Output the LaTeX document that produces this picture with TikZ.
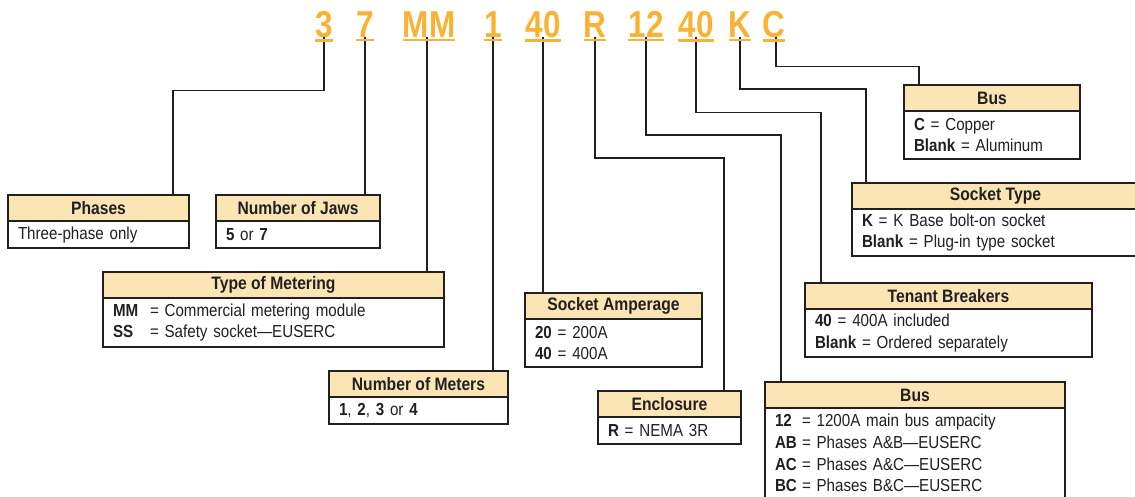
\documentclass[tikz,border=0pt]{standalone}
\usepackage{fontspec}
\setmainfont{Liberation Sans}[FakeStretch=0.87]
\newfontfamily\codefont{Liberation Sans}[FakeStretch=0.84]
\usetikzlibrary{positioning}
\definecolor{codeorange}{HTML}{F9B233}
\definecolor{headtan}{HTML}{FBE5B5}
\definecolor{ink}{HTML}{231F20}

\begin{document}
\begin{tikzpicture}[x=1pt,y=-1pt,outer sep=0pt,
    code/.style={font=\codefont\bfseries\fontsize{37.5}{38}\selectfont,text=codeorange,inner sep=0pt,anchor=base},
    uline/.style={draw=codeorange,line width=2.3pt},
    wire/.style={draw=ink,line width=1.6pt},
    head/.style={draw=ink,line width=1.3pt,fill=headtan,anchor=north west,minimum width=#1,minimum height=26pt,
      inner sep=0pt,text=ink,font=\bfseries\fontsize{18}{20}\selectfont},
    body/.style={draw=ink,line width=1.3pt,fill=white,text width=#1,inner xsep=10pt,inner ysep=0pt,align=left,
      text=ink,font=\fontsize{17.4}{21.6}\selectfont}]
  \useasboundingbox (0,0) rectangle (1135,496);

  \node[code] (cPh)  at (324,37) {3};
  \node[code] (cJaw) at (365,37) {7};
  \node[code] (cMet) at (429,37) {MM};
  \node[code] (cNum) at (493,37) {1};
  \node[code] (cAmp) at (543,37) {40};
  \node[code] (cEnc) at (595,37) {R};
  \node[code] (cBus) at (646,37) {12};
  \node[code] (cTen) at (696,37) {40};
  \node[code] (cSoc) at (740,37) {K};
  \node[code] (cCu)  at (774,37) {C};

  \node[head=181pt] (phases) at (8,195) {Phases};
  \node[body=161pt,minimum height=27pt,below=0pt of phases] (phasesB) {Three-phase only};

  \node[head=164pt] (jaws) at (216,195) {Number of Jaws};
  \node[body=144pt,minimum height=27pt,below=0pt of jaws] (jawsB) {\textbf{5} or \textbf{7}};

  \node[head=341pt] (metering) at (103,272) {Type of Metering};
  \node[body=321pt,minimum height=49pt,below=0pt of metering] (meteringB)
    {\makebox[37pt][l]{\textbf{MM}}= Commercial metering module\\\makebox[37pt][l]{\textbf{SS}}= Safety socket—EUSERC};

  \node[head=179pt] (meters) at (329,371) {Number of Meters};
  \node[body=159pt,minimum height=27pt,below=0pt of meters] (metersB)
    {\textbf{1}, \textbf{2}, \textbf{3} or \textbf{4}};

  \node[head=177pt] (amperage) at (525,293) {Socket Amperage};
  \node[body=157pt,minimum height=48pt,below=0pt of amperage] (amperageB)
    {\textbf{20} = 200A\\\textbf{40} = 400A};

  \node[head=143pt] (enclosure) at (598,391) {Enclosure};
  \node[body=123pt,minimum height=27pt,below=0pt of enclosure] (enclosureB) {\textbf{R} = NEMA 3R};

  \node[head=300pt] (busmain) at (765,382) {Bus};
  \node[body=280pt,minimum height=90pt,below=0pt of busmain] (busmainB)
    {\makebox[27pt][l]{\textbf{12}}= 1200A main bus ampacity\\\makebox[27pt][l]{\textbf{AB}}= Phases A\&B—EUSERC\\
     \makebox[27pt][l]{\textbf{AC}}= Phases A\&C—EUSERC\\\makebox[27pt][l]{\textbf{BC}}= Phases B\&C—EUSERC};

  \node[head=287pt] (tenant) at (805,283) {Tenant Breakers};
  \node[body=267pt,minimum height=48pt,below=0pt of tenant] (tenantB)
    {\textbf{40} = 400A included\\\textbf{Blank} = Ordered separately};

  \node[head=287pt] (socket) at (852,183) {Socket Type};
  \node[body=267pt,minimum height=47pt,below=0pt of socket] (socketB)
    {\textbf{K} = K Base bolt-on socket\\\textbf{Blank} = Plug-in type socket};

  \node[head=176pt] (busmat) at (904,85) {Bus};
  \node[body=156pt,minimum height=48pt,below=0pt of busmat] (busmatB)
    {\textbf{C} = Copper\\\textbf{Blank} = Aluminum};

  \draw[wire] (cPh.south) -- ++(0,53) -| ([xshift=165pt]phases.north west);
  \draw[wire] (cJaw.south) -- (cJaw.south |- jaws.north);
  \draw[wire] ([xshift=-2pt]cMet.south) -- ([xshift=-2pt]cMet.south |- metering.north);
  \draw[wire] (cNum.south) -- (cNum.south |- meters.north);
  \draw[wire] (cAmp.south) -- (cAmp.south |- amperage.north);
  \draw[wire] (cEnc.south) -- ++(0,121) -| ([xshift=126pt]enclosure.north west);
  \draw[wire] (cBus.south) -- ++(0,98) -| ([xshift=16pt]busmain.north west);
  \draw[wire] (cTen.south) -- ++(0,75) -| ([xshift=16pt]tenant.north west);
  \draw[wire] (cSoc.south) -- ++(0,52) -| ([xshift=14pt]socket.north west);
  \draw[wire] ([xshift=2pt]cCu.south) -- ++(0,29) -| ([xshift=15pt]busmat.north west);

  \foreach \k in {cPh,cJaw,cMet,cNum,cAmp,cEnc,cBus,cTen,cSoc,cCu}
    \draw[uline] ([yshift=-3pt]\k.south west) -- ([yshift=-3pt]\k.south east);
\end{tikzpicture}
\end{document}
